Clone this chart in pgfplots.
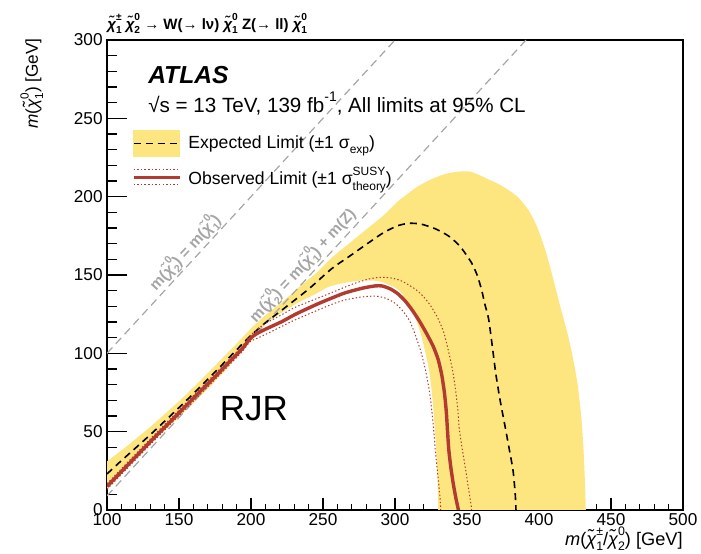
\documentclass[border=0pt]{standalone}
\usepackage{fontspec}
\setmainfont{Liberation Sans}
\usepackage{pgfplots}
\pgfplotsset{compat=1.18}
\definecolor{bandyellow}{RGB}{253,229,128}
\definecolor{obsred}{RGB}{178,58,48}
\definecolor{diaggray}{RGB}{165,165,165}
\makeatletter
\newcommand{\scr}{\fontsize{\fpeval{0.68*\f@size}}{\fpeval{0.8*\f@size}}\selectfont}
\makeatother
\newcommand{\chit}{{\itshape χ̃}}
\newcommand{\chis}[2]{\chit\rlap{\raisebox{-0.3em}{\scr #1}}\raisebox{0.55em}{\scr #2}}
\begin{document}
\begin{tikzpicture}
\begin{axis}[
  scale only axis, width=288pt, height=235pt,
  xmin=100, xmax=500, ymin=0, ymax=300,
  xtick={100,150,...,500}, ytick={0,50,...,300},
  minor tick num=4,
  tick pos=left, tick align=inside,
  xtick style={/pgfplots/major tick length=6pt, /pgfplots/minor tick length=3pt, black, line width=0.6pt},
  ytick style={/pgfplots/major tick length=10pt, /pgfplots/minor tick length=5pt, black, line width=0.6pt},
  axis line style={line width=0.8pt},
  /pgf/number format/assume math mode=true,
  tick label style={font=\fontsize{8.6}{10}\selectfont},
  xticklabel style={inner sep=0pt, yshift=-1.5pt},
  yticklabel style={inner sep=0pt, xshift=-2pt},
  xlabel={\textit{m}(\chis{1}{±}/\chis{2}{0}) [GeV]},
  ylabel={\textit{m}(\chis{1}{0}) [GeV]},
  xlabel style={at={(rel axis cs:1,-0.0755)}, anchor=base east, inner sep=0pt, font=\fontsize{9.1}{11}\selectfont},
  ylabel style={at={(rel axis cs:-0.1198,1.0043)}, anchor=base east, inner sep=0pt, font=\fontsize{8.6}{10}\selectfont},
  title={\chis{1}{±} \chis{2}{0} → W(→ lν) \chis{1}{0} Z(→ ll) \chis{1}{0}},
  title style={at={(rel axis cs:0,1)}, anchor=base west, yshift=-0.6pt, inner sep=0pt, font=\bfseries\fontsize{7.5}{8}\selectfont},
  legend style={at={(0.0434,0.8085)}, anchor=north west, draw=none, fill=none,
    inner sep=0pt, outer sep=0pt, row sep=5pt, column sep=3.5pt,
    font=\fontsize{8.8}{10}\selectfont, nodes={inner sep=0pt}},
  legend cell align=left,
]
\coordinate (SW) at (rel axis cs:0,0);
\coordinate (NE) at (rel axis cs:1,1);

\addlegendimage{legend image code/.code={
  \fill[bandyellow] (0pt,-6.5pt) rectangle (23pt,6.5pt);
  \draw[black, dash pattern=on 3.5pt off 2.5pt, line width=0.8pt] (0pt,0pt) -- (23pt,0pt);}}
\addlegendentry{Expected Limit (±1 σ\raisebox{-0.3em}{\scr exp})}
\addlegendimage{legend image code/.code={
  \draw[obsred, line width=1.7pt] (0pt,0pt) -- (23pt,0pt);
  \draw[obsred, line width=0.5pt, dash pattern=on 0.7pt off 1.1pt] (0pt,3.75pt) -- (23pt,3.75pt);
  \draw[obsred, line width=0.5pt, dash pattern=on 0.7pt off 1.1pt] (0pt,-3.75pt) -- (23pt,-3.75pt);}}
\addlegendentry{Observed Limit (±1 σ\rlap{\raisebox{0.55em}{\scr SUSY}}\raisebox{-0.3em}{\scr theory})}

% expected +-1 sigma band
\addplot[fill=bandyellow, draw=none, smooth, tension=0.4, forget plot] coordinates {
(95,27) (100,31) (110,38) (130,53) (153,72) (176,93) (194,110) (200,116) (211,125) (222,133)
(233,142) (245,151) (256,161) (268,170) (280,179) (292,188) (302,197) (315,206) (325,211)
(335,214.5) (344,216) (352,216) (358,214) (365,211) (374,207) (385,200) (393,191) (399,180)
(405,164) (410,147) (415,129) (420,112) (424,95) (427,79) (429.5,58) (431,37) (432,15)
(432.5,0) (433,-6) (330,-6) (330,0) (329.5,20) (328.5,40) (327,60) (325.5,76) (323.5,90)
(321,101) (318,112) (314,123) (310,131) (305,138) (300,142) (289,146) (277,146.5) (265,145)
(254,142.5) (245,138) (233,132.5) (222,126.5) (210,118.5) (204,112) (200,108) (194,101.5)
(176,83) (153,62) (130,42) (100,13.5) (95,9)
} -- cycle;

% kinematic diagonals
\addplot[diaggray, line width=0.6pt, dash pattern=on 4pt off 2.5pt, forget plot] coordinates {(100,100) (300,300)};
\addplot[diaggray, line width=0.6pt, dash pattern=on 4pt off 2.5pt, forget plot] coordinates {(100,9) (391,300)};

% expected limit
\addplot[black, line width=0.8pt, dash pattern=on 3.5pt off 2.5pt, smooth, tension=0.4, forget plot] coordinates {
(100,23) (110,31.5) (130,48) (153,68) (176,89) (194,106) (200,111.5) (210,119.5) (222,128)
(240,141) (256,154) (270,163) (280,169.5) (292,177) (302,181.5) (310,183) (318,182.5)
(328,179.5) (337,175) (345,168.5) (353,158) (357,150) (360,141) (362.5,131) (365,122)
(367.5,105) (370,87) (373,70) (376.5,53) (379.5,38) (382,25) (383.5,10) (384,0) (384.2,-6)
};

% observed +-1 sigma theory
\addplot[obsred, line width=0.5pt, dash pattern=on 0.7pt off 1.1pt, smooth, tension=0.4, forget plot] coordinates {
(100,16.8) (130,45.3) (150,63.8) (176,87.8) (194,104.8) (199,110.8) (204,115) (210,119)
(222,125) (231,129.5) (254,138) (270,144) (282,147.5) (290,148.5) (298,148) (305,146)
(314,141) (320,136) (325,130) (330,122) (334,113) (337,102) (340,89) (342,77) (343.5,65)
(344.5,53) (346.5,40) (349,26) (351,14) (353,2) (353.5,-6)
};
\addplot[obsred, line width=0.5pt, dash pattern=on 0.7pt off 1.1pt, smooth, tension=0.4, forget plot] coordinates {
(100,13.2) (130,41.7) (150,60.2) (176,84.2) (194,101.2) (199,107.2) (204,109.5) (210,112)
(222,117.5) (231,121.5) (254,130.5) (265,134) (277,136) (287,136.5) (294,135) (300,132)
(305,127.5) (310,121) (314,112) (318,101) (321,90) (323.5,78) (325,68) (326.5,55) (328,38)
(330,20) (331.5,5) (332,-6)
};

% observed limit
\addplot[obsred, line width=1.7pt, smooth, tension=0.4, forget plot] coordinates {
(100,15) (110,24.5) (130,43.5) (150,62) (165,76) (176,86) (186,95.5) (194,103) (199,109)
(203,112) (208,114.5) (215,117.5) (222,120.5) (231,125) (245,131) (254,134.5) (265,138.5)
(277,141.5) (286,143) (291,143) (297,141) (302,138) (307,133.5) (312,127.5) (317,120.5)
(322,112.5) (326.5,104.5) (330,96) (332.5,86) (334.3,75) (335.6,63) (336.5,50) (337.4,38)
(338.8,27) (340.6,16) (342.4,7) (344,0) (344.7,-6)
};

% texts
\node[anchor=base west, inner sep=0pt, font=\bfseries\itshape\fontsize{12.3}{14}\selectfont] at (axis cs:128.4,272.5) {ATLAS};
\node[anchor=base west, inner sep=0pt, font=\fontsize{10.3}{12}\selectfont] at (axis cs:128.4,253.4) {√s = 13 TeV, 139 fb\raisebox{0.55em}{\scr -1}, All limits at 95\% CL};
\node[anchor=base west, inner sep=0pt, font=\fontsize{17.5}{20}\selectfont] at (axis cs:178.1,57.4) {RJR};
\node[rotate=47.3, inner sep=0pt, text=diaggray, font=\bfseries\fontsize{7.8}{9}\selectfont] at (axis cs:153.9,164.6) {m(\chis{2}{0}) = m(\chis{1}{0})};
\node[rotate=47.3, inner sep=0pt, text=diaggray, font=\bfseries\fontsize{7.8}{9}\selectfont] at (axis cs:235.5,156.4) {m(\chis{2}{0}) = m(\chis{1}{0}) + m(Z)};
\end{axis}
\pgfresetboundingbox
\path ([shift={(-53.5pt,-21.5pt)}]SW) rectangle ([shift={(9pt,20pt)}]NE);
\end{tikzpicture}
\end{document}
